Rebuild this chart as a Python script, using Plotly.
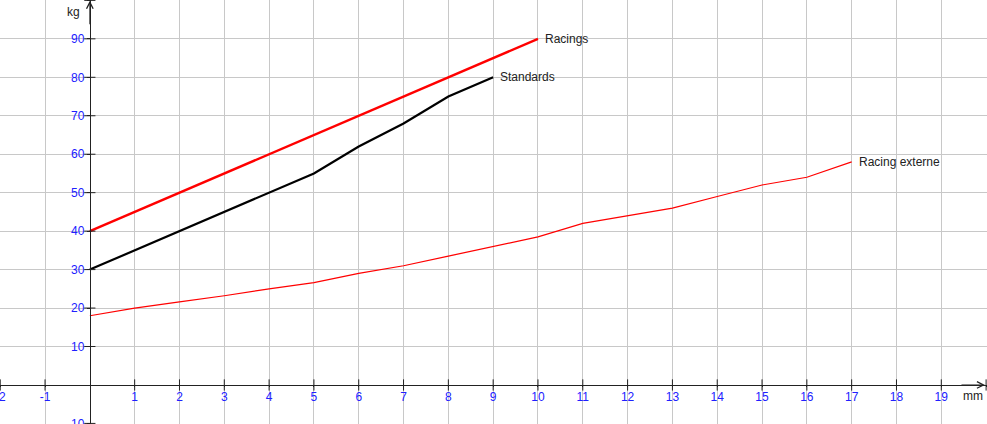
import plotly.graph_objects as go

# Données (mm -> kg)
mm_racings = [0, 10]
kg_racings = [40, 90]

mm_standards = [0, 1, 2, 3, 4, 5, 6, 7, 8, 9]
kg_standards = [30, 35, 40, 45, 50, 55, 62, 68, 75, 80]

mm_externe = [0, 1, 2, 3, 4, 5, 6, 7, 8, 9, 10, 11, 12, 13, 14, 15, 16, 17]
kg_externe = [18, 20, 21.6, 23.2, 25, 26.6, 29, 31, 33.5, 36, 38.5, 42, 44, 46, 49, 52, 54, 58]

# Graduations des axes (le 0 est porté par les axes eux-mêmes)
x_ticks = [-2, -1, 1, 2, 3, 4, 5, 6, 7, 8, 9, 10, 11, 12, 13, 14, 15, 16, 17, 18, 19, 20]
x_labels = [str(v) for v in x_ticks[:-1]] + [""]
y_ticks = [-10, 10, 20, 30, 40, 50, 60, 70, 80, 90, 100]
y_labels = [str(v) for v in y_ticks[:-1]] + [""]

x_range = [-2.005, 20.02]
y_range = [-10.15, 100.1]

police = "Liberation Sans, Arial, sans-serif"
bleu = "#2020ff"
noir_axe = "#222222"

fig = go.Figure()

series = [
    ("Racing externe", mm_externe, kg_externe, "#ff0000", 1.2),
    ("Standards", mm_standards, kg_standards, "#000000", 2.2),
    ("Racings", mm_racings, kg_racings, "#ff0000", 2.4),
]
for nom, xs, ys, couleur, epaisseur in series:
    fig.add_trace(go.Scatter(x=xs, y=ys, mode="lines", name=nom,
                             line=dict(color=couleur, width=epaisseur),
                             hoverinfo="skip"))
    # étiquette au bout de la courbe
    fig.add_annotation(x=xs[-1], y=ys[-1], text=nom, showarrow=False,
                       xanchor="left", yanchor="middle", xshift=5,
                       font=dict(family=police, size=12, color="#222222"))

# petits traits de graduation qui traversent les axes
fig.add_trace(go.Scatter(x=x_ticks, y=[0] * len(x_ticks), mode="markers",
                         marker=dict(symbol="line-ns", size=8,
                                     line=dict(color=noir_axe, width=1)),
                         hoverinfo="skip", cliponaxis=False))
fig.add_trace(go.Scatter(x=[0] * len(y_ticks), y=y_ticks, mode="markers",
                         marker=dict(symbol="line-ew", size=8,
                                     line=dict(color=noir_axe, width=1)),
                         hoverinfo="skip", cliponaxis=False))

# flèches des axes
fig.add_annotation(x=19.975, y=0, ax=-25, ay=0, text="", showarrow=True,
                   arrowhead=5, arrowsize=1.3, arrowwidth=1, arrowcolor=noir_axe)
fig.add_annotation(x=0, y=99.9, ax=0, ay=25, text="", showarrow=True,
                   arrowhead=5, arrowsize=1.3, arrowwidth=1, arrowcolor=noir_axe)

# unités
fig.add_annotation(x=-0.36, y=97.1, text="kg", showarrow=False,
                   font=dict(family=police, size=12, color="#222222"))
fig.add_annotation(x=19.71, y=-2.9, text="mm", showarrow=False,
                   font=dict(family=police, size=12, color="#222222"))

fig.update_layout(
    width=987, height=424,
    margin=dict(l=0, r=0, t=0, b=0),
    paper_bgcolor="white", plot_bgcolor="white",
    showlegend=False,
    font=dict(family=police, size=12),
    xaxis=dict(
        range=x_range, tickvals=x_ticks, ticktext=x_labels,
        showgrid=True, gridcolor="#c8c8c8", gridwidth=1, zeroline=False,
        showline=True, linecolor=noir_axe, linewidth=1,
        ticks="outside", ticklen=1, tickcolor=noir_axe,
        tickfont=dict(family=police, size=12, color=bleu),
        ticklabeloverflow="allow", automargin=False,
        anchor="free",
        position=(0 - y_range[0]) / (y_range[1] - y_range[0]),
        fixedrange=True,
    ),
    yaxis=dict(
        range=y_range, tickvals=y_ticks, ticktext=y_labels,
        showgrid=True, gridcolor="#c8c8c8", gridwidth=1, zeroline=False,
        showline=True, linecolor=noir_axe, linewidth=1,
        ticks="outside", ticklen=3, tickcolor=noir_axe,
        tickfont=dict(family=police, size=12, color=bleu),
        ticklabeloverflow="allow", automargin=False,
        anchor="free",
        position=(0 - x_range[0]) / (x_range[1] - x_range[0]),
        fixedrange=True,
    ),
)

# pas de marge autour de la page pour que le graphique occupe toute la fenêtre
fig.write_html("out.html", config={"displayModeBar": False},
               post_script="document.body.style.margin='0';")
